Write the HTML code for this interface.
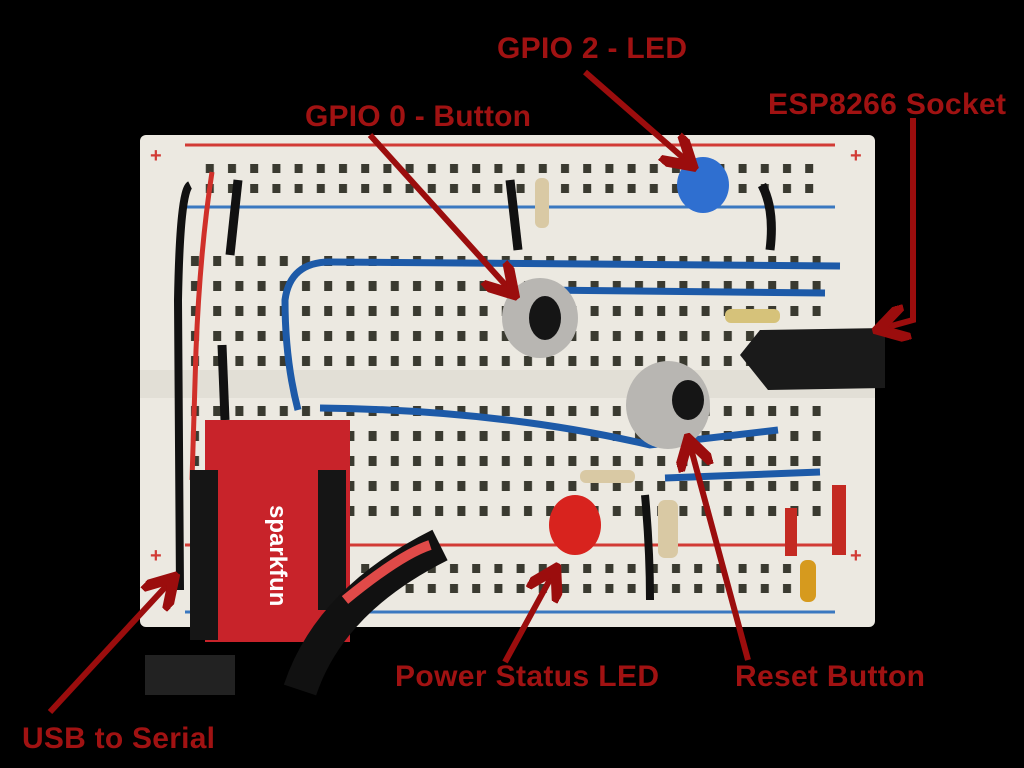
<!DOCTYPE html>
<html><head><meta charset="utf-8"><style>
html,body{margin:0;padding:0;background:#000;}
svg{display:block}
text{font-family:"Liberation Sans",sans-serif;font-weight:bold;}
</style></head><body>
<svg width="1024" height="768" viewBox="0 0 1024 768" xmlns="http://www.w3.org/2000/svg">
<defs>
<pattern id="h" x="185" y="0" width="22.2" height="25" patternUnits="userSpaceOnUse">
<rect x="6" y="6" width="8" height="10" fill="#3a3a30"/>
</pattern>
<pattern id="hr" x="0" y="0" width="22.2" height="20" patternUnits="userSpaceOnUse">
<rect x="6" y="4" width="8" height="9" fill="#3a3a30"/>
</pattern>
<marker id="ar" markerWidth="6" markerHeight="6" refX="4" refY="3" orient="auto" markerUnits="strokeWidth">
<path d="M0,0 L5,3 L0,6" fill="none" stroke="#9b0d0d" stroke-width="1.8"/>
</marker>
</defs>
<rect width="1024" height="768" fill="#000"/>
<rect x="140" y="135" width="735" height="492" rx="6" fill="#ece9e1"/>
<line x1="185" y1="145" x2="835" y2="145" stroke="#d23b35" stroke-width="3"/>
<line x1="185" y1="207" x2="835" y2="207" stroke="#3a78c0" stroke-width="3"/>
<line x1="185" y1="545" x2="835" y2="545" stroke="#d23b35" stroke-width="3"/>
<line x1="185" y1="612" x2="835" y2="612" stroke="#3a78c0" stroke-width="3"/>
<text x="150" y="162" fill="#d23b35" font-size="20" font-weight="normal">+</text>
<text x="850" y="162" fill="#d23b35" font-size="20" font-weight="normal">+</text>
<text x="150" y="562" fill="#d23b35" font-size="20" font-weight="normal">+</text>
<text x="850" y="562" fill="#d23b35" font-size="20" font-weight="normal">+</text>
<rect x="195" y="158" width="620" height="40" fill="url(#hr)"/>
<rect x="195" y="563" width="620" height="40" fill="url(#hr)"/>
<rect x="185" y="250" width="645" height="125" fill="url(#h)"/>
<rect x="185" y="400" width="645" height="125" fill="url(#h)"/>
<rect x="140" y="370" width="735" height="28" fill="#e2dfd6"/>
<path d="M190 185 Q180 190 178 300 L180 590" stroke="#111" stroke-width="8" fill="none"/>
<path d="M212 172 Q200 250 196 350 L192 480" stroke="#d0302a" stroke-width="5" fill="none"/>
<path d="M238 180 L230 255" stroke="#111" stroke-width="9" fill="none"/>
<path d="M222 345 L225 420" stroke="#111" stroke-width="9" fill="none"/>
<path d="M510 180 L518 250" stroke="#111" stroke-width="9" fill="none"/>
<path d="M762 185 Q775 210 770 250" stroke="#111" stroke-width="9" fill="none"/>
<path d="M645 495 Q650 550 650 600" stroke="#111" stroke-width="8" fill="none"/>
<path d="M298 410 Q285 360 285 300 Q290 262 330 262 L840 266" stroke="#1d5aa8" stroke-width="7" fill="none"/>
<path d="M540 290 L825 293" stroke="#1d5aa8" stroke-width="7" fill="none"/>
<path d="M320 408 Q500 410 650 445 L778 430" stroke="#1d5aa8" stroke-width="7" fill="none"/>
<path d="M665 478 L820 472" stroke="#1d5aa8" stroke-width="7" fill="none"/>
<rect x="535" y="178" width="14" height="50" rx="6" fill="#d9c9a4"/>
<rect x="725" y="309" width="55" height="14" rx="6" fill="#d6c27a"/>
<rect x="580" y="470" width="55" height="13" rx="6" fill="#d9c9a4"/>
<rect x="658" y="500" width="20" height="58" rx="7" fill="#d9c9a4"/>
<ellipse cx="703" cy="185" rx="26" ry="28" fill="#2f6fd0"/>
<ellipse cx="575" cy="525" rx="26" ry="30" fill="#d8231e"/>
<ellipse cx="540" cy="318" rx="38" ry="40" fill="#b8b6b2"/>
<ellipse cx="545" cy="318" rx="16" ry="22" fill="#151515"/>
<ellipse cx="668" cy="405" rx="42" ry="44" fill="#b8b6b2"/>
<ellipse cx="688" cy="400" rx="16" ry="20" fill="#151515"/>
<path d="M740 355 L760 330 L885 328 L885 388 L768 390 Z" fill="#1a1a1a"/>
<rect x="785" y="508" width="12" height="48" fill="#c42a22"/>
<rect x="832" y="485" width="14" height="70" fill="#c42a22"/>
<rect x="800" y="560" width="16" height="42" rx="7" fill="#d69a1e"/>
<rect x="205" y="420" width="145" height="222" fill="#c8232a"/>
<rect x="190" y="470" width="28" height="170" fill="#151515"/>
<rect x="318" y="470" width="28" height="140" fill="#151515"/>
<path d="M300 690 Q330 600 440 545" stroke="#111" stroke-width="34" fill="none"/>
<path d="M345 600 Q400 555 430 545" stroke="#e04a48" stroke-width="10" fill="none"/>
<rect x="145" y="655" width="90" height="40" fill="#222"/>
<text x="240" y="535" fill="#fff" font-size="24" transform="rotate(90 270 535)">sparkfun</text>
<g fill="#a01212" font-size="30">
<text x="497" y="58" textLength="190">GPIO 2 - LED</text>
<text x="305" y="126" textLength="226">GPIO 0 - Button</text>
<text x="768" y="114" textLength="238">ESP8266 Socket</text>
<text x="395" y="686" textLength="264">Power Status LED</text>
<text x="735" y="686" textLength="190">Reset Button</text>
<text x="22" y="748" textLength="193">USB to Serial</text>
</g>
<g stroke="#9b0d0d" stroke-width="6" fill="none" marker-end="url(#ar)">
<line x1="585" y1="72" x2="688" y2="162"/>
<line x1="370" y1="135" x2="510" y2="290"/>
<polyline points="913,118 913,320 884,328"/>
<line x1="505" y1="662" x2="553" y2="574"/>
<line x1="748" y1="660" x2="690" y2="445"/>
<line x1="50" y1="712" x2="170" y2="582"/>
</g>
</svg>
</body></html>
